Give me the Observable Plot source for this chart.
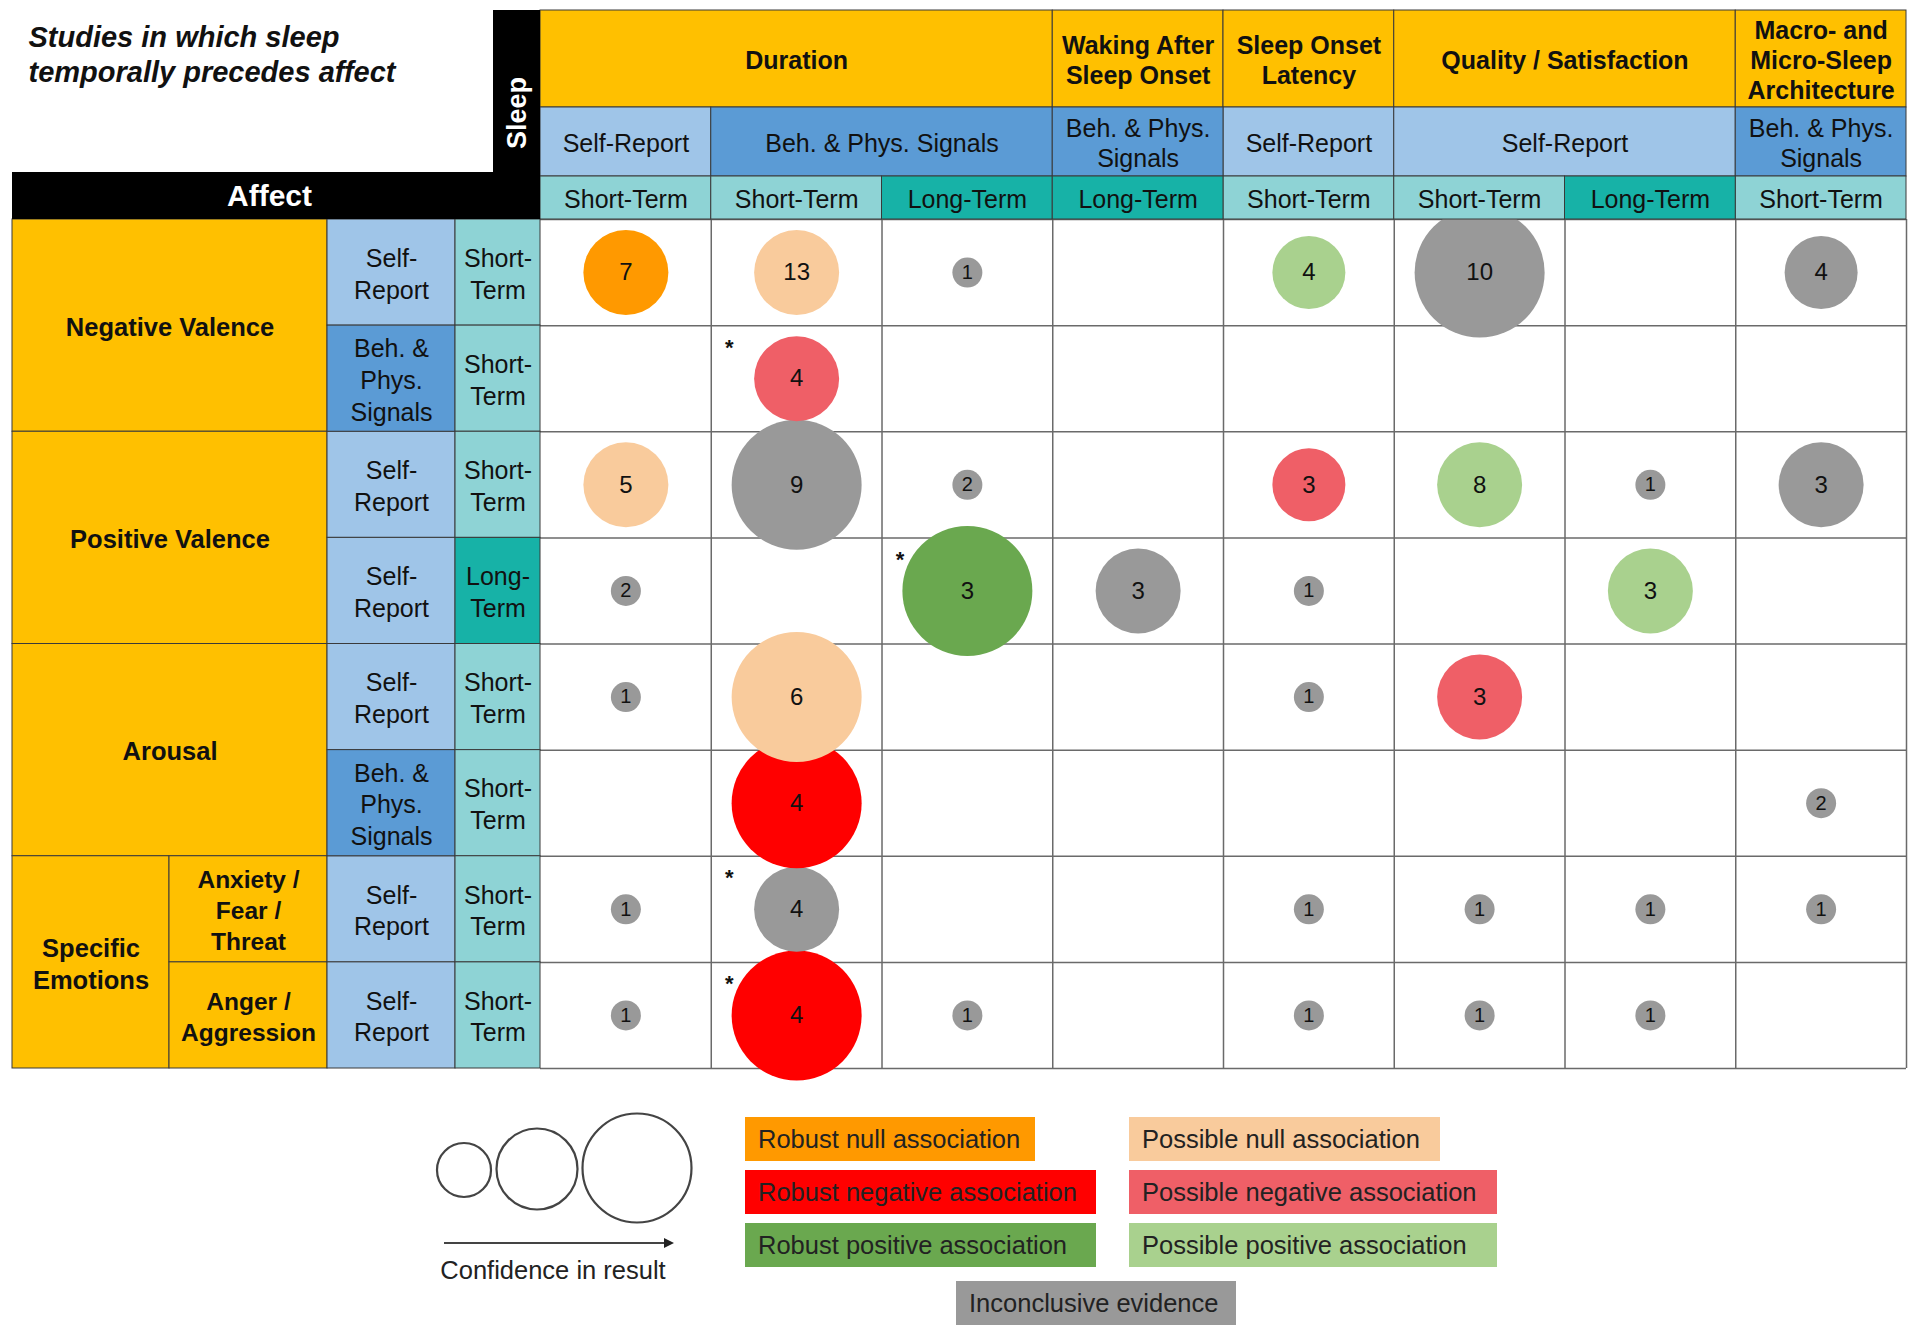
<!DOCTYPE html>
<html><head><meta charset="utf-8">
<script src="https://cdn.jsdelivr.net/npm/d3@7"></script>
<script src="https://cdn.jsdelivr.net/npm/@observablehq/plot@0.6"></script>
<style>
body{margin:0;background:#fff;font-family:"Liberation Sans",Arial,Helvetica,sans-serif;}
#wrap{position:relative;width:1920px;height:1338px;overflow:hidden;background:#fff}
#wrap svg{display:block}
</style></head><body><div id="wrap"></div>
<script>
// ---------- DATA ----------
const chartTitle = "Studies in which sleep\ntemporally precedes affect";

// Sleep (columns)
const sleepDomains = ["Duration","Duration","Duration","Waking After\nSleep Onset","Sleep Onset\nLatency","Quality / Satisfaction","Quality / Satisfaction","Macro- and\nMicro-Sleep\nArchitecture"];
const sleepMethods = ["Self-Report","Beh. & Phys. Signals","Beh. & Phys. Signals","Beh. & Phys. Signals","Self-Report","Self-Report","Self-Report","Beh. & Phys. Signals"];
const sleepTerms = ["Short-Term","Short-Term","Long-Term","Long-Term","Short-Term","Short-Term","Long-Term","Short-Term"];

// Affect (rows)
const affectCategories = ["Negative Valence","Negative Valence","Positive Valence","Positive Valence","Arousal","Arousal","Specific\nEmotions","Specific\nEmotions"];
const affectSubcategories = [null,null,null,null,null,null,"Anxiety /\nFear /\nThreat","Anger /\nAggression"];
const affectMethods = ["Self-Report","Beh. & Phys. Signals","Self-Report","Self-Report","Self-Report","Beh. & Phys. Signals","Self-Report","Self-Report"];
const affectTerms = ["Short-Term","Short-Term","Short-Term","Long-Term","Short-Term","Short-Term","Short-Term","Short-Term"];

// Evidence categories
const evidenceTypes = ["Robust null association","Possible null association","Robust negative association","Possible negative association","Robust positive association","Possible positive association","Inconclusive evidence"];
const evidenceColors = ["#ff9900","#f9cb9c","#ff0000","#ef5f67","#6aa84f","#a9d18e","#999999"];
const [RNULL, PNULL, RNEG, PNEG, RPOS, PPOS, INC] = evidenceTypes;

// Findings: [affect row, sleep column, number of studies, evidence, confidence level (1-4), flagged (*)]
const findings = [
  [0,0,7,RNULL,3,false],[0,1,13,PNULL,3,false],[0,2,1,INC,1,false],[0,4,4,PPOS,2,false],[0,5,10,INC,4,false],[0,7,4,INC,2,false],
  [1,1,4,PNEG,3,true],
  [2,0,5,PNULL,3,false],[2,1,9,INC,4,false],[2,2,2,INC,1,false],[2,4,3,PNEG,2,false],[2,5,8,PPOS,3,false],[2,6,1,INC,1,false],[2,7,3,INC,3,false],
  [3,0,2,INC,1,false],[3,2,3,RPOS,4,true],[3,3,3,INC,3,false],[3,4,1,INC,1,false],[3,6,3,PPOS,3,false],
  [4,0,1,INC,1,false],[4,1,6,PNULL,4,false],[4,4,1,INC,1,false],[4,5,3,PNEG,3,false],
  [5,1,4,RNEG,4,false],[5,7,2,INC,1,false],
  [6,0,1,INC,1,false],[6,1,4,INC,3,true],[6,4,1,INC,1,false],[6,5,1,INC,1,false],[6,6,1,INC,1,false],[6,7,1,INC,1,false],
  [7,0,1,INC,1,false],[7,1,4,RNEG,4,true],[7,2,1,INC,1,false],[7,4,1,INC,1,false],[7,5,1,INC,1,false],[7,6,1,INC,1,false]
].map(([row,col,n,type,conf,flag]) => ({row,col,n,type,conf,flag}));

// ---------- LAYOUT (grid units: 1 unit = one sleep column / one affect row) ----------
const X = {cat: -3.0923, sub: -2.1728, meth: -1.2474, term: -0.4978, sleep: -0.2753};
const Y = {top: -1.9694, yellow: -1.0554, blue: -0.4052, affect: -0.4429};
const FONT = "'Liberation Sans', Arial, Helvetica, sans-serif";
const INK = "#111";
const methodFill = {"Self-Report": "#9fc5e8", "Beh. & Phys. Signals": "#5b9bd5"};
const termFill = {"Short-Term": "#8ed3d5", "Long-Term": "#17b2a7"};

function runs(keys) {
  const out = [];
  keys.forEach((k, i) => {
    const l = out[out.length - 1];
    if (l && l.key === k) l.end = i + 1; else out.push({key: k, start: i, end: i + 1});
  });
  return out;
}

const sleepDomainCells = runs(sleepDomains).map(s => ({x1: s.start, x2: s.end, y1: Y.top, y2: Y.yellow, label: s.key}));
const sleepMethodCells = runs(sleepDomains.map((d, i) => d + "|" + sleepMethods[i])).map(s => {
  const m = sleepMethods[s.start];
  return {x1: s.start, x2: s.end, y1: Y.yellow, y2: Y.blue, method: m, label: s.end - s.start > 1 ? m : m.replace("Phys. ", "Phys.\n")};
});
const sleepTermCells = sleepTerms.map((t, i) => ({x1: i, x2: i + 1, y1: Y.blue, y2: 0, term: t, label: t}));

const affectCatCells = runs(affectCategories).map(s => ({x1: X.cat, x2: affectSubcategories[s.start] ? X.sub : X.meth, y1: s.start, y2: s.end, label: s.key}));
const affectSubCells = affectSubcategories.map((s, i) => s && ({x1: X.sub, x2: X.meth, y1: i, y2: i + 1, label: s})).filter(Boolean);
const affectMethodCells = affectMethods.map((m, i) => ({x1: X.meth, x2: X.term, y1: i, y2: i + 1, method: m, label: m === "Self-Report" ? "Self-\nReport" : "Beh. &\nPhys.\nSignals"}));
const affectTermCells = affectTerms.map((t, i) => ({x1: X.term, x2: 0, y1: i, y2: i + 1, term: t, label: t.replace("-", "-\n")}));

const cellX = d => (d.x1 + d.x2) / 2, cellY = d => (d.y1 + d.y2) / 2;
function rectsBy(cells, fillOf) {
  return d3.groups(cells, fillOf).map(([fill, cs]) =>
    Plot.rect(cs, {x1: "x1", x2: "x2", y1: "y1", y2: "y2", fill, stroke: "#3a3a3a", strokeWidth: 1}));
}
function labels(cells, o) {
  return Plot.text(cells, {x: cellX, y: cellY, text: "label", fill: INK, fontSize: 25, lineHeight: 1.22, ...o});
}

const plot = Plot.plot({
  width: 1920, height: 1095, margin: 0,
  x: {type: "linear", domain: [X.cat, 8], range: [12, 1906], axis: null},
  y: {type: "linear", domain: [Y.top, 8], range: [10, 1068], axis: null},
  r: {type: "linear", domain: [1, 2, 3, 4], range: [15, 36.5, 42.5, 65]},
  color: {type: "ordinal", domain: evidenceTypes, range: evidenceColors},
  style: {fontFamily: FONT, background: "white", overflow: "visible"},
  marks: [
    // data grid
    Plot.ruleY(d3.range(0, 9), {x1: 0, x2: 8, stroke: "#6a6a6a", strokeWidth: 1.5}),
    Plot.ruleX(d3.range(1, 9), {y1: 0, y2: 8, stroke: "#6a6a6a", strokeWidth: 1.5}),
    // circles (earlier rows drawn on top)
    Plot.dot(findings.slice().reverse(), {x: d => d.col + 0.5, y: d => d.row + 0.5, r: "conf", fill: "type", sort: null}),
    Plot.text(findings, {x: d => d.col + 0.5, y: d => d.row + 0.5, text: d => String(d.n), fill: INK,
      fontSize: d => d.conf === 1 ? 20 : 24}),
    Plot.text(findings.filter(d => d.flag), {x: "col", y: "row", text: () => "*", dx: 18, dy: 22, fontSize: 22, fontWeight: "bold", fill: INK}),
    // sleep header
    ...rectsBy(sleepDomainCells, () => "#ffc000"),
    ...rectsBy(sleepMethodCells, d => methodFill[d.method]),
    ...rectsBy(sleepTermCells, d => termFill[d.term]),
    labels(sleepDomainCells, {fontWeight: "bold", lineHeight: 1.2}),
    labels(sleepMethodCells, {}),
    labels(sleepTermCells, {}),
    // affect header
    ...rectsBy(affectCatCells, () => "#ffc000"),
    ...rectsBy(affectSubCells, () => "#ffc000"),
    ...rectsBy(affectMethodCells, d => methodFill[d.method]),
    ...rectsBy(affectTermCells, d => termFill[d.term]),
    labels(affectCatCells, {fontWeight: "bold", fontSize: 25.5, lineHeight: 1.26}),
    labels(affectSubCells, {fontWeight: "bold", fontSize: 24.5, lineHeight: 1.27}),
    labels(affectMethodCells, {lineHeight: 1.27}),
    labels(affectTermCells, {lineHeight: 1.27}),
    // black axis titles
    Plot.rect([{x1: X.sleep, x2: 0, y1: Y.top, y2: 0}, {x1: X.cat, x2: 0, y1: Y.affect, y2: 0}], {x1: "x1", x2: "x2", y1: "y1", y2: "y2", fill: "black"}),
    Plot.text(["Sleep"], {x: X.sleep / 2, y: Y.top / 2, text: d => d, rotate: -90, dy: -2, fill: "white", fontWeight: "bold", fontSize: 27}),
    Plot.text(["Affect"], {x: X.cat / 2, y: Y.affect / 2, text: d => d, dx: -7, fill: "white", fontWeight: "bold", fontSize: 30}),
    // chart title in the corner
    Plot.text([chartTitle], {frameAnchor: "top-left", text: d => d, dx: 28, dy: 22, textAnchor: "start", lineAnchor: "top",
      fontSize: 29, fontWeight: "bold", fontStyle: "italic", lineHeight: 1.2, fill: INK})
  ]
});
document.getElementById("wrap").appendChild(plot);

// ---------- LEGEND (below the chart) ----------
const legend = d3.create("svg").attr("width", 1920).attr("height", 243)
  .style("font-family", FONT).style("background", "white");
const sizeCircles = [{cx: 464, cy: 75, r: 27}, {cx: 537, cy: 74, r: 40.5}, {cx: 637, cy: 73, r: 54.5}];
legend.selectAll("circle").data(sizeCircles).join("circle")
  .attr("cx", d => d.cx).attr("cy", d => d.cy).attr("r", d => d.r)
  .attr("fill", "none").attr("stroke", "#444").attr("stroke-width", 2.2);
legend.append("line").attr("x1", 444).attr("x2", 664).attr("y1", 148).attr("y2", 148).attr("stroke", "#444").attr("stroke-width", 2);
legend.append("path").attr("d", "M664,143 L674,148 L664,153 Z").attr("fill", "#222");
legend.append("text").attr("x", 553).attr("y", 175).attr("text-anchor", "middle").attr("dominant-baseline", "central")
  .attr("font-size", 25.5).attr("fill", "#222").text("Confidence in result");

const boxWidths = [290, 311, 351, 368, 351, 368, 280];
const boxes = evidenceTypes.map((t, i) => {
  if (i === 6) return {t, c: evidenceColors[i], x: 956, y: 186, w: boxWidths[i]};
  return {t, c: evidenceColors[i], x: i % 2 ? 1129 : 745, y: 22 + Math.floor(i / 2) * 53, w: boxWidths[i]};
});
const g = legend.selectAll("g.box").data(boxes).join("g").attr("class", "box");
g.append("rect").attr("x", d => d.x).attr("y", d => d.y).attr("width", d => d.w).attr("height", 44).attr("fill", d => d.c);
g.append("text").attr("x", d => d.x + 13).attr("y", d => d.y + 22).attr("dominant-baseline", "central")
  .attr("font-size", 25.5).attr("fill", "#222").text(d => d.t);
document.getElementById("wrap").appendChild(legend.node());
</script>
</body></html>
